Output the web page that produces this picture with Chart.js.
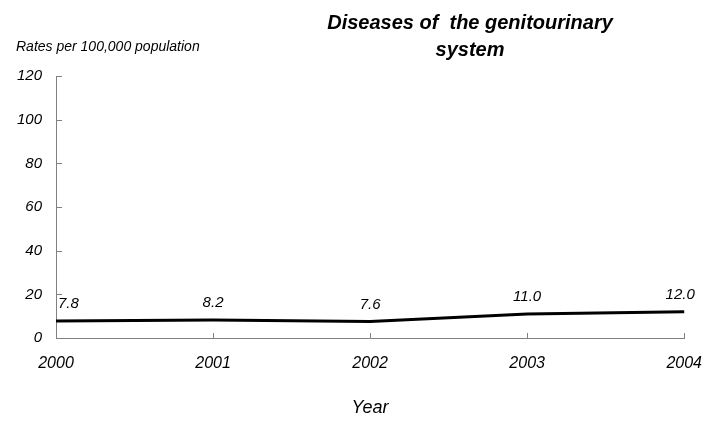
<!DOCTYPE html>
<html>
<head>
<meta charset="utf-8">
<script src="https://cdn.jsdelivr.net/npm/chart.js@4.4.1/dist/chart.umd.min.js"></script>
<style>
    html, body { margin: 0; padding: 0; background: #fff; }
    #wrap { width: 718px; height: 429px; }
</style>
</head>
<body>
<div id="wrap"><canvas id="chart"></canvas></div>
<script>
const years = ['2000', '2001', '2002', '2003', '2004'];
const rates = [7.8, 8.2, 7.6, 11.0, 12.0];
const rateLabels = ['7.8', '8.2', '7.6', '11.0', '12.0'];
const titleLines = ['Diseases of  the genitourinary', 'system'];
const yAxisLabel = 'Rates per 100,000 population';
const xAxisLabel = 'Year';

const FONT = "'Liberation Sans', Arial, sans-serif";
const AXIS_GREY = '#808080';

// titles, inward tick marks and value labels
const extrasPlugin = {
    id: 'extras',
    afterDraw: function(chart) {
        const ctx = chart.ctx;
        const x = chart.scales.x;
        const y = chart.scales.y;
        ctx.save();

        // tick marks pointing into the plot
        ctx.strokeStyle = AXIS_GREY;
        ctx.lineWidth = 1;
        ctx.beginPath();
        y.ticks.forEach(t => {
            const py = Math.round(y.getPixelForValue(t.value)) + 0.5;
            ctx.moveTo(x.left, py);
            ctx.lineTo(x.left + 6, py);
        });
        years.forEach((_, i) => {
            const px = Math.round(x.getPixelForValue(i)) + 0.5;
            ctx.moveTo(px, y.bottom);
            ctx.lineTo(px, y.bottom - 5);
        });
        ctx.stroke();

        // value labels
        ctx.fillStyle = '#000';
        ctx.font = 'italic 15px ' + FONT;
        ctx.textBaseline = 'middle';
        rates.forEach((v, i) => {
            let px = x.getPixelForValue(i);
            const py = y.getPixelForValue(v) - 17;
            ctx.textAlign = 'center';
            if (i === 0) { ctx.textAlign = 'left'; px += 2; }
            if (i === rates.length - 1) px -= 4;
            ctx.fillText(rateLabels[i], px, py);
        });

        // chart title
        ctx.font = 'bold italic 20px ' + FONT;
        ctx.textAlign = 'center';
        ctx.fillText(titleLines[0], 470, 23);
        ctx.fillText(titleLines[1], 470, 50);

        // y axis caption
        ctx.font = 'italic 14px ' + FONT;
        ctx.textAlign = 'left';
        ctx.fillText(yAxisLabel, 16, 47);

        ctx.restore();
    }
};

const ctx = document.getElementById('chart').getContext('2d');
new Chart(ctx, {
    type: 'line',
    data: {
        labels: years,
        datasets: [{
            label: 'Rate',
            data: rates,
            borderColor: '#000',
            backgroundColor: '#000',
            borderWidth: 3,
            pointRadius: 0,
            tension: 0
        }]
    },
    options: {
        responsive: true,
        maintainAspectRatio: false,
        animation: false,
        layout: { padding: { top: 76, right: 24, left: 0, bottom: 0 } },
        plugins: {
            legend: { display: false },
            title: { display: false },
            tooltip: { enabled: false }
        },
        scales: {
            x: {
                offset: false,
                grid: { display: false, drawTicks: false },
                border: { display: true, color: AXIS_GREY, width: 1 },
                ticks: {
                    color: '#000',
                    padding: 16,
                    maxRotation: 0,
                    font: { family: FONT, size: 16, style: 'italic' }
                },
                title: {
                    display: true,
                    text: xAxisLabel,
                    color: '#000',
                    padding: { top: 0, bottom: 10 },
                    font: { family: FONT, size: 18, style: 'italic' }
                },
                afterFit: function(scale) { scale.height = 91; }
            },
            y: {
                min: 0,
                max: 120,
                grid: { display: false, drawTicks: false },
                border: { display: true, color: AXIS_GREY, width: 1 },
                ticks: {
                    stepSize: 20,
                    color: '#000',
                    padding: 14,
                    font: { family: FONT, size: 15, style: 'italic' }
                },
                afterFit: function(scale) { scale.width = 56; }
            }
        }
    },
    plugins: [extrasPlugin]
});
</script>
</body>
</html>
